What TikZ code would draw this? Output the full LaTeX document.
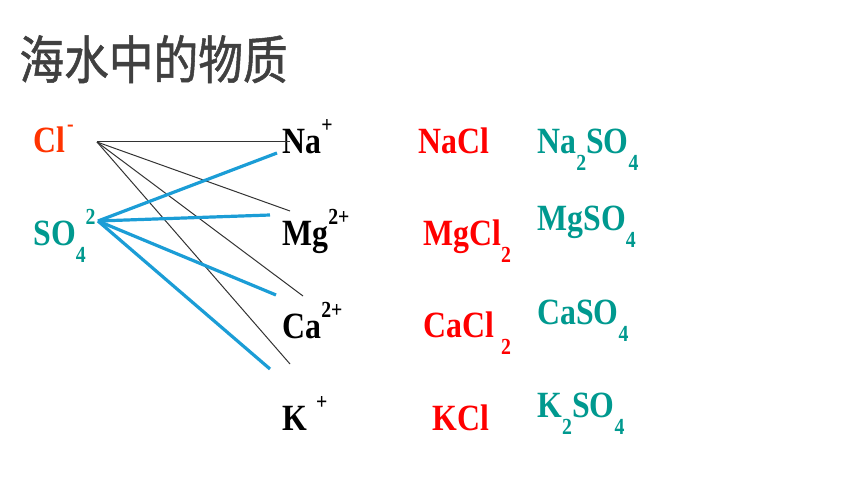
\documentclass[tikz,border=0pt]{standalone}
\usepackage{fontspec}
\setmainfont[FakeStretch=0.86]{Liberation Serif}
\newfontfamily\titlefont[FakeStretch=0.86,FakeBold=1]{Noto Sans CJK SC}
\definecolor{clred}{RGB}{255,51,0}
\definecolor{saltred}{RGB}{255,0,0}
\definecolor{sulteal}{RGB}{0,153,143}
\definecolor{linkblue}{RGB}{27,157,214}
\definecolor{titlegray}{RGB}{64,64,64}
\newcommand\ionsz{\fontsize{11.5}{11.5}\selectfont}
\newcommand\lo[1]{\raisebox{-8.5pt}{\ionsz #1}}
\newcommand\hi[1]{\raisebox{10.5pt}{\ionsz #1}}
\begin{document}
\begin{tikzpicture}[x=0.5pt,y=-0.5pt,
    chem/.style={anchor=base west,inner sep=0pt,font=\fontsize{18.5}{18.5}\selectfont\bfseries},
    clink/.style={draw=black!80,line width=0.5pt},
    slink/.style={draw=linkblue,line width=1.6pt}]
    \useasboundingbox (0,0) rectangle (860,491);
    \node[anchor=base west,inner sep=0pt,font=\titlefont\fontsize{26}{26}\selectfont,text=titlegray] (title) at (19,79) {海水中的物质};
    \node[chem,text=clred] (cl) at (33,153) {Cl\hi{\hspace{1pt}-}};
    \node[chem,text=sulteal] (so4) at (33,246) {SO\lo{4}\hi{2}};
    \node[chem] (na) at (282,154) {Na\hi{+}};
    \node[chem] (mg) at (282,246) {Mg\hi{2+}};
    \node[chem] (ca) at (282,338) {Ca\hi{2+}};
    \node[chem] (k) at (282,430) {K\hi{\hspace{4.5pt}+}};
    \node[chem,text=saltred] (nacl) at (418,154) {NaCl};
    \node[chem,text=saltred] (mgcl) at (423,246) {MgCl\lo{2}};
    \node[chem,text=saltred] (cacl) at (423,337) {CaCl\lo{\hspace{3.5pt}2}};
    \node[chem,text=saltred] (kcl) at (432,430) {KCl};
    \node[chem,text=sulteal] (naso) at (537,154) {Na\lo{2}SO\lo{4}};
    \node[chem,text=sulteal] (mgso) at (537,231) {MgSO\lo{4}};
    \node[chem,text=sulteal] (caso) at (537,324) {CaSO\lo{4}};
    \node[chem,text=sulteal] (kso) at (537,417) {K\lo{2}SO\lo{4}};
    \coordinate (cl-o) at (97,142);
    \coordinate (so-o) at (98,221);
    \coordinate (na-c) at (290,142);
    \coordinate (mg-c) at (290,211);
    \coordinate (ca-c) at (303,296);
    \coordinate (k-c) at (290,364);
    \coordinate (na-s) at (277,153);
    \coordinate (mg-s) at (270,215);
    \coordinate (ca-s) at (276,295);
    \coordinate (k-s) at (270,369);
    \draw[clink] (cl-o) -- (na-c);
    \draw[clink] (cl-o) -- (mg-c);
    \draw[clink] (cl-o) -- (ca-c);
    \draw[clink] (cl-o) -- (k-c);
    \draw[slink] (so-o) -- (na-s);
    \draw[slink] (so-o) -- (mg-s);
    \draw[slink] (so-o) -- (ca-s);
    \draw[slink] (so-o) -- (k-s);
\end{tikzpicture}
\end{document}
